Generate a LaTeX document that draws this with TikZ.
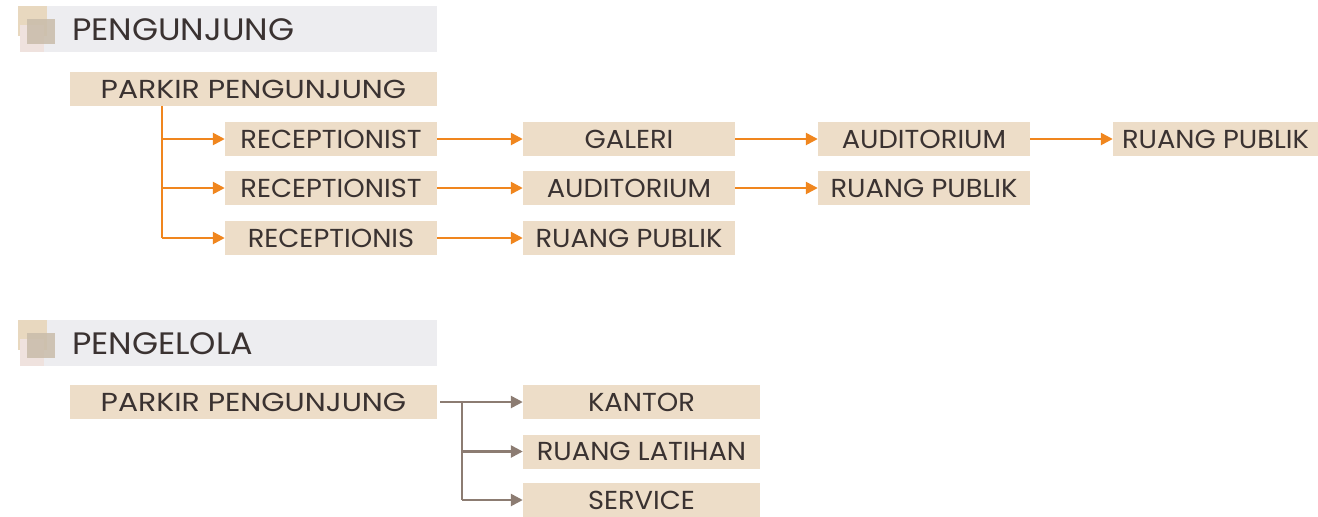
\documentclass[tikz,border=0pt]{standalone}
\usepackage{fontspec}
\setmainfont{Poppins}
\newfontfamily\boxfont[FakeStretch=1.05]{Poppins}
\newfontfamily\parkfont[FakeStretch=1.15]{Poppins}
\newfontfamily\headfont[FakeStretch=1.08]{Poppins}
\usetikzlibrary{arrows.meta}
\definecolor{boxc}{HTML}{EDDDC8}
\definecolor{headc}{HTML}{EDEDF0}
\definecolor{txtc}{HTML}{3A3231}
\definecolor{orgc}{HTML}{F0861E}
\definecolor{brnc}{HTML}{8C7C72}
\definecolor{sqa}{HTML}{E8D8BF}
\definecolor{sqb}{HTML}{C9BCAA}
\definecolor{sqc}{HTML}{EFE2DE}
\tikzset{
  box/.style={fill=boxc, inner sep=0pt, minimum height=34pt, text=txtc, font=\boxfont\fontsize{26}{26}\selectfont},
  pbox/.style={box, font=\parkfont\fontsize{26}{26}\selectfont},
  head/.style={anchor=west, inner sep=0pt, text=txtc, font=\headfont\fontsize{31}{31}\selectfont},
  oarrow/.style={draw=orgc, line width=2.5pt, -{Triangle[length=12pt,width=12pt]}},
  oline/.style={draw=orgc, line width=2.5pt},
  barrow/.style={draw=brnc, line width=2.5pt, -{Triangle[length=12pt,width=12pt]}},
  bline/.style={draw=brnc, line width=2.5pt},
}
\begin{document}
\begin{tikzpicture}[x=1pt,y=-1pt]
\useasboundingbox (0,0) rectangle (1318,517);
% header 1
\fill[headc] (20,6) rectangle (437,52);
\fill[sqa] (18,6) rectangle (47,36);
\fill[sqc] (20,25) rectangle (44,52);
\fill[sqb,opacity=0.85] (27,19) rectangle (55,44);
\node[head] (h1) at (72,30) {PENGUNJUNG};
% header 2
\fill[headc] (20,320) rectangle (437,366);
\fill[sqa] (18,320) rectangle (47,350);
\fill[sqc] (20,339) rectangle (44,366);
\fill[sqb,opacity=0.85] (27,333) rectangle (55,358);
\node[head] (h2) at (72,344) {PENGELOLA};

% section 1
\node[pbox, minimum width=367pt] (p1) at (253.5,89) {PARKIR PENGUNJUNG};
\node[box, minimum width=212pt] (r1) at (331,139) {RECEPTIONIST};
\node[box, minimum width=212pt] (r2) at (331,188) {RECEPTIONIST};
\node[box, minimum width=212pt] (r3) at (331,238) {RECEPTIONIS};
\node[box, minimum width=212pt] (g1) at (629,139) {GALERI};
\node[box, minimum width=212pt] (a2) at (629,188) {AUDITORIUM};
\node[box, minimum width=212pt] (u3) at (629,238) {RUANG PUBLIK};
\node[box, minimum width=212pt] (a1) at (924,139) {AUDITORIUM};
\node[box, minimum width=212pt] (u2) at (924,188) {RUANG PUBLIK};
\node[box, minimum width=205pt] (u1) at (1215.5,139) {RUANG PUBLIK};

\coordinate (t0) at (162,106);
\coordinate (t1) at (162,139);
\coordinate (t2) at (162,188);
\coordinate (t3) at (162,238);
\draw[oline] (t0) -- (t3);
\draw[oarrow] (t1) -- (r1.west);
\draw[oarrow] (t2) -- (r2.west);
\draw[oarrow] (t3) -- (r3.west);
\draw[oarrow] (r1.east) -- (g1.west);
\draw[oarrow] (g1.east) -- (a1.west);
\draw[oarrow] (a1.east) -- (u1.west);
\draw[oarrow] (r2.east) -- (a2.west);
\draw[oarrow] (a2.east) -- (u2.west);
\draw[oarrow] (r3.east) -- (u3.west);

% section 2
\node[pbox, minimum width=367pt] (p2) at (253.5,402) {PARKIR PENGUNJUNG};
\node[box, minimum width=237pt] (k) at (641.5,402) {KANTOR};
\node[box, minimum width=237pt] (l) at (641.5,451.5) {RUANG LATIHAN};
\node[box, minimum width=237pt] (s) at (641.5,500) {SERVICE};
\coordinate (b0) at (440,402);
\coordinate (b1) at (462,402);
\coordinate (b2) at (462,451.5);
\coordinate (b3) at (462,500);
\draw[barrow] (b0) -- (k.west);
\draw[bline] (b1) -- (b3);
\draw[barrow] (b2) -- (l.west);
\draw[barrow] (b3) -- (s.west);
\end{tikzpicture}
\end{document}
